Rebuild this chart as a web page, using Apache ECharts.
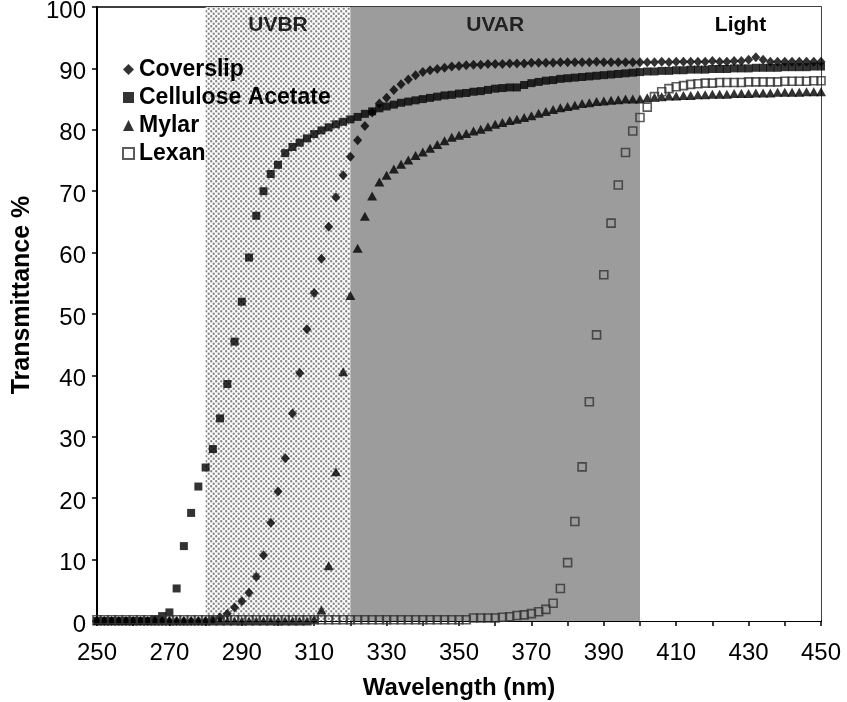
<!DOCTYPE html>
<html>
<head>
<meta charset="utf-8">
<script src="https://cdn.jsdelivr.net/npm/echarts@6/dist/echarts.min.js"></script>
<style>
    html, body { margin: 0; padding: 0; background: #fff; }
    #chart { width: 847px; height: 702px; }
</style>
</head>
<body>
<div id="chart"></div>
<script>
// 波长 (nm)，每 2 nm 一个点
const wavelengths = [
    250, 252, 254, 256, 258, 260, 262, 264, 266, 268,
    270, 272, 274, 276, 278, 280, 282, 284, 286, 288,
    290, 292, 294, 296, 298, 300, 302, 304, 306, 308,
    310, 312, 314, 316, 318, 320, 322, 324, 326, 328,
    330, 332, 334, 336, 338, 340, 342, 344, 346, 348,
    350, 352, 354, 356, 358, 360, 362, 364, 366, 368,
    370, 372, 374, 376, 378, 380, 382, 384, 386, 388,
    390, 392, 394, 396, 398, 400, 402, 404, 406, 408,
    410, 412, 414, 416, 418, 420, 422, 424, 426, 428,
    430, 432, 434, 436, 438, 440, 442, 444, 446, 448,
    450
];

// 透过率 %
const coverslip = [
    0, 0, 0, 0, 0, 0, 0, 0, 0, 0,
    0, 0, 0, 0, 0, 0, 0.2, 0.6, 1.2, 2.2,
    3.2, 4.6, 7.2, 10.7, 16.0, 21.1, 26.5, 33.8, 40.4, 47.5,
    53.4, 59.0, 64.2, 69.0, 72.6, 75.6, 78.3, 80.6, 82.8, 84.3,
    85.2, 86.5, 87.4, 88.2, 88.9, 89.4, 89.7, 89.9, 90.1, 90.3,
    90.4, 90.5, 90.6, 90.6, 90.7, 90.7, 90.7, 90.8, 90.8, 90.8,
    90.9, 90.9, 90.9, 90.9, 91.0, 91.0, 91.0, 91.0, 91.0, 91.1,
    91.0, 91.0, 91.0, 91.0, 91.0, 91.0, 91.0, 91.0, 91.1, 91.0,
    91.1, 91.1, 91.1, 91.1, 91.1, 91.2, 91.1, 91.1, 91.2, 91.2,
    91.4, 91.8, 91.4, 91.1, 91.1, 91.1, 91.1, 91.1, 91.1, 91.1,
    91.1
];

const cellulose = [
    0, 0, 0, 0, 0, 0, 0, 0, 0.3, 0.8,
    1.4, 5.3, 12.2, 17.6, 21.9, 25.0, 28.0, 33.0, 38.6, 45.5,
    52.0, 59.2, 66.0, 70.0, 72.8, 74.3, 76.2, 77.2, 77.9, 78.6,
    79.3, 79.9, 80.4, 80.9, 81.3, 81.7, 82.1, 82.6, 83.0, 83.5,
    83.8, 84.1, 84.4, 84.6, 84.8, 85.0, 85.2, 85.4, 85.6, 85.7,
    85.9, 86.0, 86.2, 86.3, 86.5, 86.7, 86.8, 86.9, 86.9, 87.3,
    87.6, 87.8, 88.0, 88.1, 88.3, 88.4, 88.5, 88.6, 88.7, 88.8,
    88.9, 89.0, 89.1, 89.2, 89.3, 89.4, 89.5, 89.5, 89.6, 89.6,
    89.7, 89.7, 89.8, 89.8, 89.8, 89.9, 89.9, 89.9, 90.0, 90.0,
    90.0, 90.1, 90.1, 90.1, 90.1, 90.2, 90.2, 90.2, 90.2, 90.3,
    90.3
];

const mylar = [
    0, 0, 0, 0, 0, 0, 0, 0, 0, 0,
    0, 0, 0, 0, 0, 0, 0, 0, 0, 0,
    0, 0, 0, 0, 0, 0, 0, 0, 0, 0,
    0.3, 1.8, 9.0, 24.3, 40.6, 53.0, 60.7, 65.9, 69.2, 71.5,
    72.6, 73.6, 74.4, 75.1, 75.8, 76.4, 77.0, 77.6, 78.2, 78.8,
    79.1, 79.4, 79.8, 80.1, 80.5, 80.9, 81.2, 81.5, 81.7, 82.0,
    82.3, 82.7, 83.0, 83.3, 83.6, 83.8, 84.0, 84.3, 84.4, 84.6,
    84.7, 84.8, 84.9, 85.0, 85.0, 85.0, 85.2, 85.3, 85.4, 85.5,
    85.5, 85.6, 85.6, 85.7, 85.7, 85.8, 85.8, 85.8, 85.9, 85.9,
    85.9, 86.0, 86.0, 86.0, 86.1, 86.1, 86.1, 86.1, 86.2, 86.2,
    86.2
];

const lexan = [
    0.2, 0.2, 0.2, 0.2, 0.2, 0.2, 0.2, 0.2, 0.2, 0.2,
    0.2, 0.2, 0.2, 0.2, 0.2, 0.2, 0.2, 0.2, 0.2, 0.2,
    0.2, 0.2, 0.2, 0.2, 0.2, 0.2, 0.2, 0.2, 0.2, 0.2,
    0.2, 0.2, 0.2, 0.2, 0.2, 0.2, 0.2, 0.2, 0.2, 0.2,
    0.2, 0.2, 0.2, 0.2, 0.2, 0.2, 0.2, 0.2, 0.2, 0.2,
    0.2, 0.2, 0.5, 0.5, 0.5, 0.5, 0.6, 0.7, 0.9, 1.0,
    1.2, 1.5, 1.9, 2.9, 5.3, 9.5, 16.2, 25.1, 35.7, 46.6,
    56.4, 64.8, 71.0, 76.3, 79.8, 82.0, 83.7, 85.4, 86.2, 86.7,
    87.0, 87.2, 87.4, 87.5, 87.6, 87.6, 87.7, 87.7, 87.7, 87.7,
    87.8, 87.8, 87.8, 87.8, 87.8, 87.9, 87.9, 87.9, 87.9, 88.0,
    88.0
];

// 波段
const bandNames = ['UVBR', 'UVAR', 'Light'];
const bandStarts = [280, 320, 400];
const bandEnds = [320, 400, 450];

const xTicks = { min: 250, max: 450, step: 10 };
const yTicks = { min: 0, max: 100, step: 10 };

const FONT = 'Liberation Sans, Arial, sans-serif';

// 点状网纹
function makeDotPattern() {
    const c = document.createElement('canvas');
    c.width = 5;
    c.height = 5;
    const ctx = c.getContext('2d');
    ctx.fillStyle = '#ffffff';
    ctx.fillRect(0, 0, 5, 5);
    ctx.fillStyle = '#8a8a8a';
    ctx.beginPath();
    ctx.arc(1.2, 1.2, 1.2, 0, Math.PI * 2);
    ctx.arc(3.7, 3.7, 1.2, 0, Math.PI * 2);
    ctx.fill();
    return c;
}

const pairs = arr => wavelengths.map((w, i) => [w, arr[i]]);

const bandFills = [
    { image: makeDotPattern(), repeat: 'repeat' },
    '#9c9c9c',
    '#ffffff'
];
const bandOffsets = [[0, 0], [0, 0], [10, 0]];

const markAreaData = bandNames.map((name, i) => [
    {
        name: name,
        xAxis: bandStarts[i],
        itemStyle: { color: bandFills[i] },
        label: { offset: bandOffsets[i], color: i === 2 ? '#000' : '#222' }
    },
    { xAxis: bandEnds[i] }
]);

const chart = echarts.init(document.getElementById('chart'));

const option = {
    animation: false,
    backgroundColor: '#fff',
    grid: {
        left: 97, right: 26, top: 7, bottom: 81,
        outerBoundsMode: 'none',
        containLabel: false,
        show: true, borderColor: '#000', borderWidth: 1.5,
        backgroundColor: 'transparent'
    },
    legend: {
        orient: 'vertical',
        left: 117, top: 53,
        itemWidth: 11, itemHeight: 11, itemGap: 5,
        data: ['Coverslip', 'Cellulose Acetate', 'Mylar', 'Lexan'],
        textStyle: { fontFamily: FONT, fontSize: 23, fontWeight: 'bold', color: '#000', lineHeight: 22 }
    },
    xAxis: {
        type: 'value',
        min: xTicks.min, max: xTicks.max, interval: xTicks.step,
        name: 'Wavelength (nm)',
        nameLocation: 'middle', nameGap: 55,
        nameTextStyle: { fontFamily: FONT, fontSize: 24, fontWeight: 'bold', color: '#000' },
        axisLine: { lineStyle: { color: '#000', width: 2 } },
        axisTick: { show: true, length: 5, lineStyle: { color: '#000', width: 1.5 } },
        splitLine: { show: false },
        axisLabel: {
            fontFamily: FONT, fontSize: 24, color: '#000', margin: 20,
            formatter: v => ((v - xTicks.min) % 20 === 0 ? String(v) : '')
        }
    },
    yAxis: {
        type: 'value',
        min: yTicks.min, max: yTicks.max, interval: yTicks.step,
        name: 'Transmittance %',
        nameLocation: 'middle', nameGap: 62, nameRotate: 90,
        nameTextStyle: {
            fontFamily: FONT, fontSize: 25, fontWeight: 'bold', color: '#000',
            padding: [0, 0, 0, 38]
        },
        axisLine: { show: true, lineStyle: { color: '#000', width: 2 } },
        axisTick: { show: true, length: 5, lineStyle: { color: '#000', width: 1.5 } },
        splitLine: { show: false },
        axisLabel: {
            margin: 11,
            formatter: v => '{t|' + v + '}',
            rich: {
                t: { fontFamily: FONT, fontSize: 24, color: '#000', padding: [8, 0, 0, 0] }
            }
        }
    },
    series: [
        {
            name: 'Cellulose Acetate',
            type: 'scatter',
            symbol: 'rect',
            symbolSize: 8,
            itemStyle: { color: '#000' },
            data: pairs(cellulose),
            markArea: {
                silent: true,
                label: {
                    show: true, position: 'insideTop', distance: 8,
                    fontFamily: FONT, fontSize: 21, fontWeight: 'bold'
                },
                data: markAreaData
            }
        },
        {
            name: 'Mylar',
            type: 'scatter',
            symbol: 'triangle',
            symbolSize: [10, 9],
            itemStyle: { color: '#000' },
            data: pairs(mylar)
        },
        {
            name: 'Coverslip',
            type: 'scatter',
            symbol: 'diamond',
            symbolSize: [9, 10],
            itemStyle: { color: '#000' },
            data: pairs(coverslip)
        },
        {
            name: 'Lexan',
            type: 'scatter',
            symbol: 'rect',
            symbolSize: 8,
            itemStyle: { color: 'rgba(0,0,0,0)', borderColor: '#333', borderWidth: 1.6 },
            data: pairs(lexan)
        }
    ]
};

chart.setOption(option);
</script>
</body>
</html>
